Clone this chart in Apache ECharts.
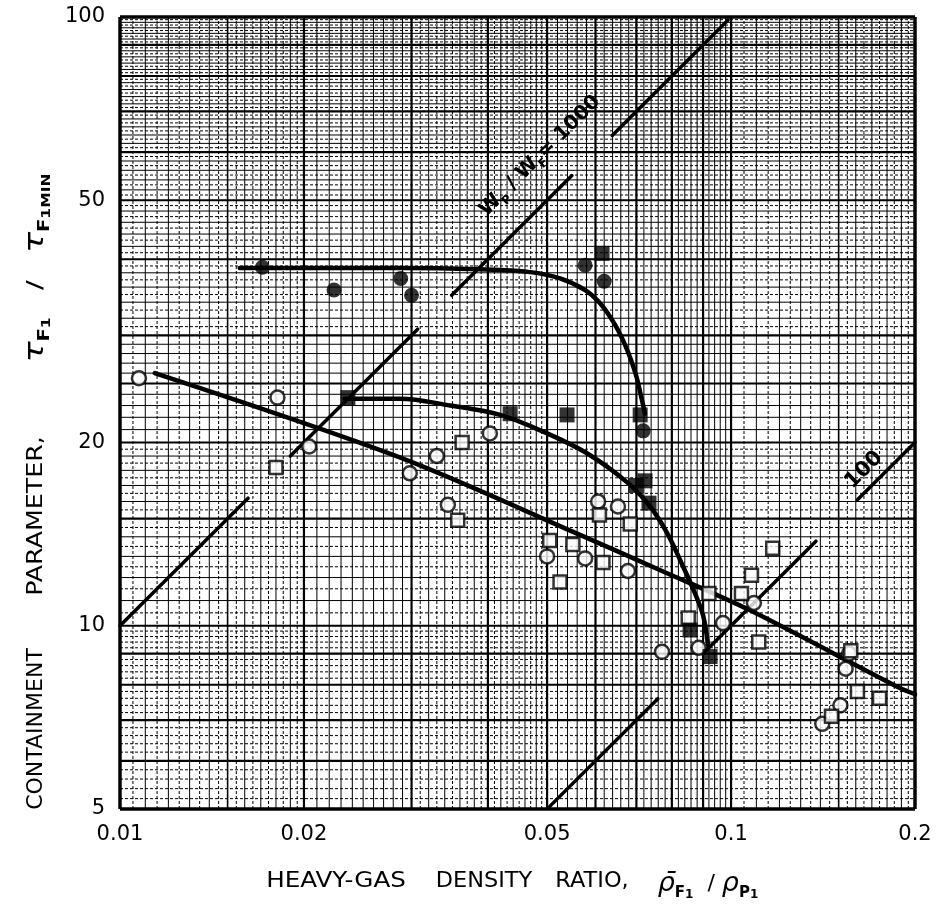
<!DOCTYPE html>
<html><head><meta charset="utf-8">
<script src="https://cdn.jsdelivr.net/npm/echarts@6/dist/echarts.min.js"></script>
<style>html,body{margin:0;padding:0;background:#fff}#c{width:944px;height:912px}</style>
</head><body><div id="c"></div>
<script>
// ---------- tick labels ----------
const xTickValues = [0.01, 0.02, 0.05, 0.1, 0.2];
const xTickLabels = ['0.01', '0.02', '0.05', '0.1', '0.2'];
const yTickValues = [5, 10, 20, 50, 100];
const yTickLabels = ['5', '10', '20', '50', '100'];

// ---------- data ----------
const filledCircles = [[0.0171,38.8],[0.0224,35.6],[0.0288,37.2],[0.0300,34.9],[0.0577,39.1],[0.0620,36.8],[0.0718,20.9]];
const filledSquares = [[0.0236,23.7],[0.0435,22.3],[0.0539,22.2],[0.0615,40.9],[0.0710,22.2],[0.0699,17.0],[0.0723,17.3],[0.0734,15.9],[0.0857,9.84],[0.0924,8.9]];
const openCircles = [[0.01074,25.5],[0.0181,23.7],[0.0204,19.7],[0.0298,17.8],[0.0330,19.0],[0.0344,15.8],[0.0403,20.7],[0.0500,13.0],[0.0577,12.9],[0.0606,16.0],[0.0653,15.7],[0.0678,12.3],[0.0771,9.06],[0.0885,9.2],[0.0970,10.1],[0.109,10.9],[0.156,9.0],[0.154,8.5],[0.151,7.4],[0.141,6.9]];
const openSquares = [[0.0180,18.2],[0.0363,20.0],[0.0357,14.9],[0.0505,13.8],[0.0551,13.6],[0.0525,11.8],[0.0617,12.7],[0.0609,15.2],[0.0684,14.7],[0.0851,10.3],[0.0920,11.3],[0.104,11.3],[0.108,12.1],[0.117,13.4],[0.111,9.4],[0.157,9.1],[0.161,7.8],[0.175,7.6],[0.146,7.1]];

const circleCurve = [[0.0157,38.7],[0.0287,38.7],[0.0388,38.5],[0.0469,38.1],[0.0525,37.2],[0.0577,35.6],[0.0610,33.9],[0.0646,31.2],[0.0676,28.4],[0.0699,25.8],[0.0712,23.9],[0.0723,22.3]];
const squareCurve = [[0.0233,23.6],[0.0287,23.6],[0.0347,23.0],[0.0419,22.2],[0.0500,20.7],[0.0581,19.2],[0.0676,17.2],[0.0737,15.7],[0.0786,14.2],[0.0835,12.5],[0.0873,11.3],[0.0900,10.4],[0.0917,9.3]];
const fitLine = [[0.0114,26.0],[0.0287,18.9],[0.0566,14.1],[0.0771,12.3],[0.1074,10.6],[0.189,7.9],[0.2,7.72]];

const ratio1000Seg1 = [[0.01,10],[0.0162,16.2]];
const ratio1000Seg2 = [[0.019,19],[0.0307,30.7]];
const ratio1000Seg3 = [[0.0349,34.9],[0.0549,54.9]];
const ratio1000Seg4 = [[0.0639,63.9],[0.0989,98.9]];
const ratio100Seg1 = [[0.0505,5.05],[0.0759,7.59]];
const ratio100Seg2 = [[0.090,9.0],[0.1377,13.77]];
const ratio100Seg3 = [[0.161,16.1],[0.2,20]];

// ---------- graph-paper rulings (styling only) ----------
function seq(a, b, step){ const o=[]; for(let v=a; v<=b+1e-9; v+=step){ o.push(+v.toFixed(6)); } return o; }
function buildRulings(){
  const L=[];
  const add=(axis, vals, w, dash)=>vals.forEach(v=>L.push({axis, v, w, dash}));
  add('x', seq(0.0105,0.0195,0.001), 1, [3,2]);
  add('x', seq(0.031,0.049,0.002), 1, [3,2]);
  add('x', seq(0.105,0.195,0.01), 1, [3,2]);
  add('y', seq(5.2,9.8,0.2).filter(v=>Math.abs(v-Math.round(v))>1e-6), 1, [3,2]);
  add('y', seq(10.5,19.5,1), 1, [3,2]);
  add('y', seq(31,49,2), 1, [3,2]);
  add('y', seq(51,99,2), 1, [3,2]);
  add('x', seq(0.011,0.019,0.001).filter(v=>Math.abs(v-0.015)>1e-6), 1);
  add('x', seq(0.021,0.029,0.001), 1);
  [0.03,0.04,0.05,0.06,0.07,0.08,0.09].forEach(d=>add('x', seq(d+0.002,d+0.008,0.002), 1));
  add('x', seq(0.11,0.19,0.01).filter(v=>Math.abs(v-0.15)>1e-6), 1);
  add('y', [11,12,13,14,16,17,18,19,21,22,23,24,26,27,28,29,32,34,36,38,42,44,46,48], 1);
  [50,60,70,80,90].forEach(d=>add('y', seq(d+2,d+8,2), 1));
  add('x', [0.015,0.15], 1.6);
  add('x', [0.02,0.03,0.04,0.05,0.06,0.07,0.08,0.09,0.1], 2.2);
  add('y', [6,7,8,9,10,15,20,25,30,40,50,60,70,80,90], 2.2);
  add('x', [0.01,0.2], 3.5);
  add('y', [5,100], 3.5);
  return L;
}
const rulings = buildRulings();

const X_MIN=0.01, X_MAX=0.2, Y_MIN=5, Y_MAX=100;
const chart = echarts.init(document.getElementById('c'), null, {renderer:'canvas'});

function lineSeries(data, width, smooth){
  return {type:'line', data, smooth: smooth||false, showSymbol:false, symbol:'none', z:3, silent:true,
    lineStyle:{color:'#000', width:width, cap:'round'}};
}

const option = {
  animation:false,
  backgroundColor:'#fff',
  grid:{left:120, right:29, top:17, bottom:103, containLabel:false, outerBoundsMode:'none'},
  xAxis:{type:'log', logBase:10, min:X_MIN, max:X_MAX,
    axisLine:{show:false}, axisTick:{show:false}, axisLabel:{show:false}, splitLine:{show:false}},
  yAxis:{type:'log', logBase:10, min:Y_MIN, max:Y_MAX,
    axisLine:{show:false}, axisTick:{show:false}, axisLabel:{show:false}, splitLine:{show:false}},
  series:[
    {type:'custom', silent:true, z:1, data:[[0.05,10]],
      renderItem:function(params, api){
        const ch=[];
        rulings.forEach(l=>{
          let p1,p2;
          if(l.axis==='x'){ p1=api.coord([l.v,Y_MIN]); p2=api.coord([l.v,Y_MAX]); }
          else { p1=api.coord([X_MIN,l.v]); p2=api.coord([X_MAX,l.v]); }
          ch.push({type:'line', shape:{x1:p1[0],y1:p1[1],x2:p2[0],y2:p2[1]},
            style:{stroke:'#000', lineWidth:l.w, lineDash:l.dash||null}});
        });
        return {type:'group', children:ch};
      }},
    lineSeries(circleCurve, 4.5, 0.35),
    lineSeries(squareCurve, 4.5, 0.35),
    lineSeries(fitLine, 4.5, 0.3),
    lineSeries(ratio1000Seg1, 3.5),
    lineSeries(ratio1000Seg2, 3.5),
    lineSeries(ratio1000Seg3, 3.5),
    lineSeries(ratio1000Seg4, 3.5),
    lineSeries(ratio100Seg1, 3.5),
    lineSeries(ratio100Seg2, 3.5),
    lineSeries(ratio100Seg3, 3.5),
    {type:'scatter', data:openCircles, symbol:'circle', symbolSize:14, z:4, silent:true,
      itemStyle:{color:'#fff', borderColor:'#000', borderWidth:2.5}},
    {type:'scatter', data:openSquares, symbol:'rect', symbolSize:13, z:4, silent:true,
      itemStyle:{color:'#fff', borderColor:'#000', borderWidth:2.5}},
    {type:'scatter', data:filledCircles, symbol:'circle', symbolSize:15, z:5, silent:true,
      itemStyle:{color:'#000'}},
    {type:'scatter', data:filledSquares, symbol:'rect', symbolSize:15, z:5, silent:true,
      itemStyle:{color:'#000'}}
  ]
};
chart.setOption(option);

// ---------- text: tick labels, titles, line labels ----------
const FONT = '"DejaVu Sans", "Liberation Sans", sans-serif';
const g = [];
function txt(x, y, text, opts){
  const o = Object.assign({fontSize:20, align:'center', vAlign:'middle', rotation:0, weight:'normal', rich:null, scaleX:1}, opts||{});
  const style = {text:text, fontSize:o.fontSize, fontFamily:FONT, fontWeight:o.weight, fill:'#000',
    align:o.align, textAlign:o.align, verticalAlign:o.vAlign, textVerticalAlign:o.vAlign};
  if(o.rich) style.rich = o.rich;
  g.push({type:'text', x:x, y:y, rotation:o.rotation, scaleX:o.scaleX, z:10, silent:true, style:style});
}
xTickValues.forEach((v,i)=>{
  const p = chart.convertToPixel({gridIndex:0}, [v, Y_MIN]);
  txt(p[0], p[1]+15, xTickLabels[i], {vAlign:'top', fontSize:21});
});
yTickValues.forEach((v,i)=>{
  const p = chart.convertToPixel({gridIndex:0}, [X_MIN, v]);
  txt(p[0]-15, p[1], yTickLabels[i], {align:'right', fontSize:21});
});
const richTitle = {
  t:{fontSize:22, fontFamily:FONT, fill:'#000', lineHeight:34, verticalAlign:'middle'},
  g:{fontSize:27, fontFamily:FONT, fontStyle:'italic', fill:'#000', lineHeight:34, verticalAlign:'middle'},
  s:{fontSize:15, fontFamily:FONT, fontWeight:'bold', fill:'#000', lineHeight:12, verticalAlign:'bottom'},
  ss:{fontSize:12, fontFamily:FONT, fontWeight:'bold', fill:'#000', lineHeight:4, verticalAlign:'bottom'}
};
// x title
txt(336, 881, 'HEAVY-GAS', {fontSize:22, scaleX:1.12});
txt(484, 881, 'DENSITY', {fontSize:22, scaleX:1.02});
txt(592, 881, 'RATIO,', {fontSize:22, scaleX:1.02});
txt(708, 884, '{g|\u03C1\u0304}{s|F}{ss|1}{t|  / }{g|\u03C1}{s|P}{ss|1}', {rich:richTitle});
// y title
const R = Math.PI/2;
txt(36, 729, 'CONTAINMENT', {fontSize:22, rotation:R});
txt(36, 516, 'PARAMETER,', {fontSize:22, rotation:R, scaleX:1.15});
txt(36, 268, '{g|\u03C4}{s|F}{ss|1}{t|   /   }{g|\u03C4}{s|F}{ss|1MIN}', {rich:richTitle, rotation:R, scaleX:1.3});
// in-plot labels
const richLab = {
  w:{fontSize:20, fontFamily:FONT, fontWeight:'bold', fill:'#000', lineHeight:28, verticalAlign:'middle'},
  s:{fontSize:12, fontFamily:FONT, fontWeight:'bold', fill:'#000', lineHeight:10, verticalAlign:'bottom'}
};
txt(540, 156, '{w|W}{s|P}{w| / W}{s|F}{w|= 1000}', {rich:richLab, rotation:Math.PI/4});
txt(864, 470, '100', {fontSize:21, weight:'bold', rotation:Math.PI/4});
chart.setOption({graphic:{elements:g}});
</script>
</body></html>
